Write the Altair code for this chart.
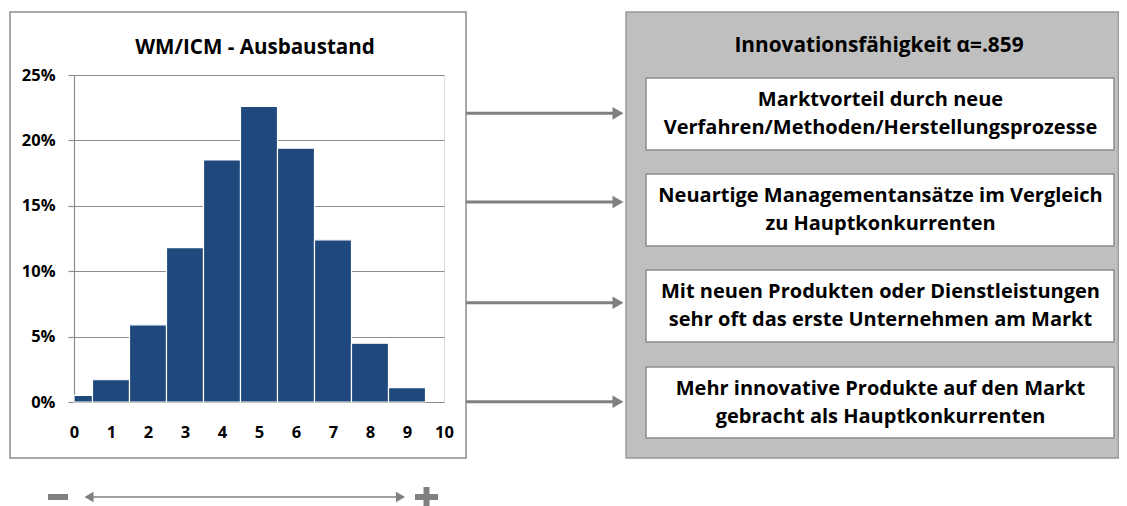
import altair as alt
import pandas as pd

# ---------------- data ----------------
scores = [0, 1, 2, 3, 4, 5, 6, 7, 8, 9]
shares = [0.5, 1.7, 5.9, 11.8, 18.5, 22.6, 19.4, 12.4, 4.5, 1.1]   # percent
x_ticks = [0, 1, 2, 3, 4, 5, 6, 7, 8, 9, 10]
y_ticks = [0, 5, 10, 15, 20, 25]
chart_title = "WM/ICM - Ausbaustand"
panel_title = "Innovationsfähigkeit α=.859"
items = [
    ["Marktvorteil durch neue", "Verfahren/Methoden/Herstellungsprozesse"],
    ["Neuartige Managementansätze im Vergleich", "zu Hauptkonkurrenten"],
    ["Mit neuen Produkten oder Dienstleistungen", "sehr oft das erste Unternehmen am Markt"],
    ["Mehr innovative Produkte auf den Markt", "gebracht als Hauptkonkurrenten"],
]

hist = pd.DataFrame({
    "score": scores,
    "start": [max(s - 0.5, 0) for s in scores],
    "end": [s + 0.5 for s in scores],
    "share": shares,
})

# ---------------- style / layout ----------------
FONT = "Open Sans"
BAR = "#1F497D"
GRID = "#8c8c8c"
ARROW = "#808080"
W, H = 370, 327
one = pd.DataFrame({"k": [0]})


def rect(x0, x1, y0, y1, **kw):
    return alt.Chart(one).mark_rect(**kw).encode(
        x=alt.value(x0), x2=alt.value(x1), y=alt.value(y0), y2=alt.value(y1))


def hline(x0, x1, y, **kw):
    return alt.Chart(one).mark_rule(**kw).encode(
        x=alt.value(x0), x2=alt.value(x1), y=alt.value(y))


def vline(x, y0, y1, **kw):
    return alt.Chart(one).mark_rule(**kw).encode(
        x=alt.value(x), y=alt.value(y0), y2=alt.value(y1))


def head(x, y, shape, size):
    return alt.Chart(one).mark_point(shape=shape, filled=True, size=size,
                                     color=ARROW, opacity=1).encode(
        x=alt.value(x), y=alt.value(y))


def text(t, x, y, size, **kw):
    return alt.Chart(pd.DataFrame({"t": [t]})).mark_text(
        font=FONT, fontWeight="bold", fontSize=size, color="black",
        align="center", baseline="middle", **kw).encode(
        x=alt.value(x), y=alt.value(y), text="t:N")


layers = []
# frame around histogram
layers.append(rect(-64, 392, -63, 383, fill="white", fillOpacity=0,
                   stroke=GRID, strokeWidth=1.5))
# right panel
layers.append(rect(552, 1044.5, -63, 383, fill="#bfbfbf", stroke="#999999",
                   strokeWidth=1.5))
box_y = [(3, 75), (99, 171), (195, 267), (292, 363)]
for (y0, y1) in box_y:
    layers.append(rect(572, 1040, y0, y1, fill="white", stroke="#8c8c8c",
                       strokeWidth=1.5))
for i, (y0, y1) in enumerate(box_y):
    cy = (y0 + y1) / 2
    layers.append(text(items[i][0], 806.5, cy - 14, 20))
    layers.append(text(items[i][1], 806.5, cy + 14, 20))
layers.append(text(panel_title, 805, -29.5, 20.8))
layers.append(text(chart_title, 181, -27, 20.6))

# arrows to panel
arrow_y = [38.3, 127, 227.7, 326.7]
for ay in arrow_y:
    layers.append(hline(392, 540, ay, color=ARROW, strokeWidth=3))
    layers.append(head(544, ay, "triangle-right", 160))

# bottom scale arrow
layers.append(hline(14, 327, 422, color=ARROW, strokeWidth=1.5))
layers.append(head(15, 422, "triangle-left", 110))
layers.append(head(326.5, 422, "triangle-right", 110))
layers.append(hline(-26, -6, 422, color=ARROW, strokeWidth=6))
layers.append(hline(341, 364, 422, color=ARROW, strokeWidth=6))
layers.append(vline(352.5, 412, 432, color=ARROW, strokeWidth=6))

bars = alt.Chart(hist).mark_rect(color=BAR, stroke="white", strokeWidth=1.2).encode(
    x=alt.X("start:Q", scale=alt.Scale(domain=[0, 10], nice=False, zero=True),
            axis=alt.Axis(values=x_ticks, domain=False, ticks=False, grid=False,
                          labelFont=FONT, labelFontSize=16.5, labelFontWeight="bold",
                          labelColor="black", labelPadding=22, labelFlush=False,
                          labelOverlap=False, title=None)),
    x2="end:Q",
    y=alt.Y("share:Q", scale=alt.Scale(domain=[0, 25], nice=False),
            axis=alt.Axis(values=y_ticks, labelExpr="datum.value + '%'",
                          grid=True, gridColor=GRID, gridWidth=1.2,
                          domainColor=GRID, domainWidth=1.2,
                          tickColor=GRID, tickSize=6, tickWidth=1.2,
                          labelFont=FONT, labelFontSize=16.5, labelFontWeight="bold",
                          labelColor="black", labelPadding=13, labelFlush=False,
                          title=None)),
    y2=alt.datum(0),
)

chart = alt.layer(*layers, bars).properties(
    width=W, height=H,
    autosize=alt.AutoSizeParams(type="none"),
    padding={"left": 66, "top": 67, "right": 675, "bottom": 104},
).configure_view(stroke=None).configure(background="white")

chart.save("out.html", embed_options={"renderer": "svg", "actions": False})
